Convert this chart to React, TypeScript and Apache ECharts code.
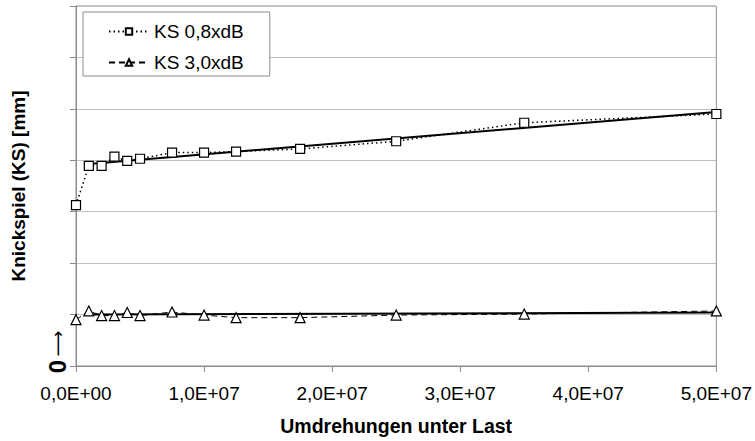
import React, { useEffect, useRef } from "react";
import * as echarts from "echarts";

const revolutions = [0, 1e6, 2e6, 3e6, 4e6, 5e6, 7.5e6, 1e7, 1.25e7, 1.75e7, 2.5e7, 3.5e7, 5e7];
const ks08 = [3.13, 3.89, 3.89, 4.07, 3.99, 4.03, 4.15, 4.15, 4.17, 4.22, 4.37, 4.73, 4.9];
const ks30 = [0.9, 1.07, 0.98, 0.98, 1.04, 0.98, 1.05, 0.99, 0.94, 0.94, 0.99, 1.01, 1.07];
const trend08X = [1e6, 5e7];
const trend08Y = [3.93, 4.94];
const trend30X = [1e6, 5e7];
const trend30Y = [1.0, 1.04];
const seriesNames = ["KS 0,8xdB", "KS 3,0xdB"];
const xTicks = [0, 1e7, 2e7, 3e7, 4e7, 5e7];

const pair = (xs: number[], ys: number[]) => xs.map((x, i) => [x, ys[i]]);

const fmtX = (v: number) => {
  if (v === 0) return "0,0E+00";
  return (v / 1e7).toFixed(1).replace(".", ",") + "E+07";
};

export default function App() {
  const ref = useRef<HTMLDivElement>(null);
  useEffect(() => {
    if (!ref.current) return;
    const chart = echarts.init(ref.current, null, { renderer: "svg" });
    const font = "'Liberation Sans', Arial, sans-serif";
    chart.setOption({
      animation: false,
      textStyle: { fontFamily: font },
      grid: {
        left: 76,
        right: 37,
        top: 6,
        bottom: 71,
        show: true,
        borderColor: "#8c8c8c",
        borderWidth: 1,
      },
      legend: {
        data: seriesNames,
        orient: "vertical",
        left: 83,
        top: 12,
        padding: [10, 26, 4, 25],
        itemGap: 12,
        itemWidth: 40,
        itemHeight: 8,
        borderColor: "#8c8c8c",
        borderWidth: 1,
        backgroundColor: "#fff",
        textStyle: { fontSize: 19, color: "#000", fontFamily: font },
      },
      xAxis: {
        type: "value",
        min: 0,
        max: 5e7,
        interval: 1e7,
        name: "Umdrehungen unter Last",
        nameLocation: "middle",
        nameGap: 50,
        nameTextStyle: { fontSize: 19.5, fontWeight: "bold", color: "#000", fontFamily: font },
        axisLine: { show: true, lineStyle: { color: "#8c8c8c", width: 1 } },
        axisTick: { show: true, length: 6, lineStyle: { color: "#8c8c8c" } },
        axisLabel: {
          fontSize: 19,
          color: "#000",
          margin: 18,
          fontFamily: font,
          formatter: (v: number) => (xTicks.includes(v) ? fmtX(v) : ""),
        },
        splitLine: { show: false },
      },
      yAxis: {
        type: "value",
        min: 0,
        max: 7,
        interval: 1,
        name: "Knickspiel (KS) [mm]",
        nameLocation: "middle",
        nameGap: 48,
        nameTextStyle: { fontSize: 19, fontWeight: "bold", color: "#000", fontFamily: font },
        axisLine: { show: true, lineStyle: { color: "#8c8c8c", width: 1 } },
        axisTick: { show: true, length: 6, lineStyle: { color: "#8c8c8c" } },
        axisLabel: { show: false },
        splitLine: { show: true, lineStyle: { color: "#c0c0c0", width: 1 } },
      },
      series: [
        {
          name: seriesNames[0],
          type: "line",
          data: pair(revolutions, ks08),
          symbol: "rect",
          symbolSize: 9,
          lineStyle: { color: "#000", width: 1.5, type: [1.5, 3] },
          itemStyle: { color: "#fff", borderColor: "#000", borderWidth: 1.2 },
          z: 3,
        },
        {
          name: seriesNames[1],
          type: "line",
          data: pair(revolutions, ks30),
          symbol: "triangle",
          symbolSize: 10,
          lineStyle: { color: "#000", width: 1, type: [6, 4] },
          itemStyle: { color: "#fff", borderColor: "#000", borderWidth: 1.2 },
          z: 3,
        },
        {
          name: "Trend 0,8",
          type: "line",
          data: pair(trend08X, trend08Y),
          symbol: "none",
          lineStyle: { color: "#000", width: 2 },
          z: 2,
        },
        {
          name: "Trend 3,0",
          type: "line",
          data: pair(trend30X, trend30Y),
          symbol: "none",
          lineStyle: { color: "#000", width: 2 },
          z: 2,
        },
      ],
      graphic: [
        {
          type: "text",
          x: 57,
          y: 352,
          rotation: Math.PI / 2,
          style: {
            text: "{a|0} {b|⟶}",
            align: "center",
            verticalAlign: "middle",
            rich: {
              a: { fontSize: 24, fontWeight: "bold", fill: "#000", fontFamily: font },
              b: { fontSize: 18, fill: "#000", fontFamily: "'DejaVu Sans', sans-serif" },
            },
          },
        },
      ],
    });
    return () => chart.dispose();
  }, []);
  return <div ref={ref} style={{ position: "absolute", left: 0, top: 0, width: 755, height: 441 }} />;
}
